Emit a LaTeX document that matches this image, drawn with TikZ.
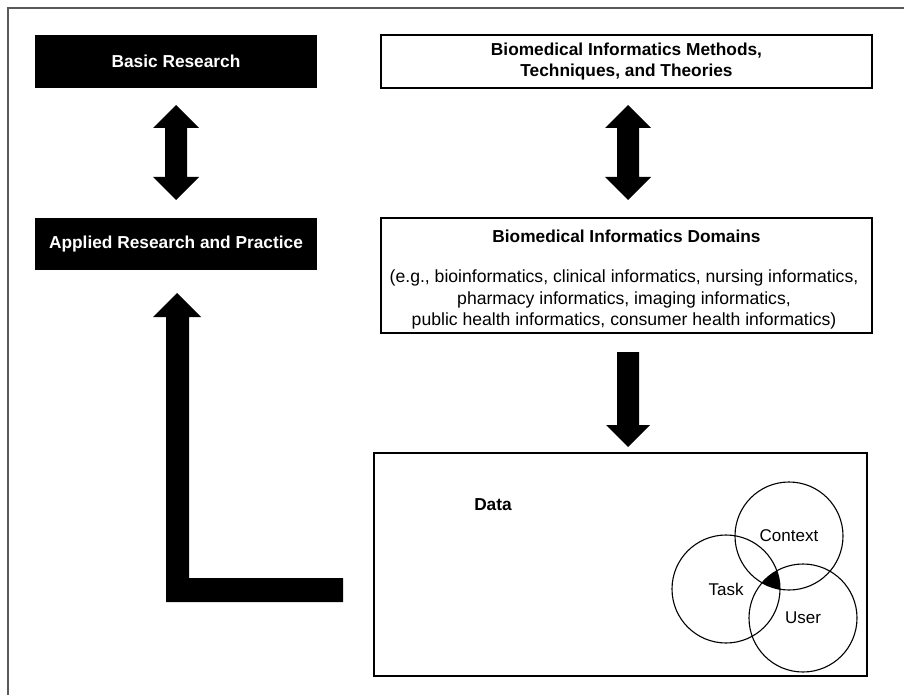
\documentclass[tikz,border=0pt]{standalone}
\usepackage{fontspec}
\setmainfont{Liberation Sans}
\usetikzlibrary{calc}

\tikzset{
  darkbox/.style={fill=black,text=white,font=\bfseries\fontsize{17.3}{21}\selectfont,minimum width=282pt,minimum height=53pt,inner sep=0pt},
  whitebox/.style={draw,line width=1.3pt,align=center,font=\fontsize{17.3}{21}\selectfont,inner sep=0pt},
  venn/.style={circle,draw,line width=1.1pt,minimum size=108pt,inner sep=0pt,font=\fontsize{17}{21}\selectfont}
}

\begin{document}
\begin{tikzpicture}[x=1pt,y=-1pt]
\useasboundingbox (0,0) rectangle (904,695);
\draw[line width=2pt,black!65] (8,695)--(8,8)--(904,8);

% left column
\node[darkbox] (basic) at (176,61.5) {Basic Research};
\node[darkbox,minimum height=52pt] (applied) at (176,244) {Applied Research and Practice};

% right column
\node[whitebox,minimum width=491pt,minimum height=53pt,font=\bfseries\fontsize{17.3}{21}\selectfont] (methods) at (626.5,61.5) {Biomedical Informatics Methods,\\Techniques, and Theories};
\node[whitebox,minimum width=491pt,minimum height=115pt] (domains) at (626.5,275.5) {};
\node[font=\bfseries\fontsize{17.3}{21}\selectfont] (domtitle) at (626.5,236) {Biomedical Informatics Domains};
\node[align=center,font=\fontsize{17.6}{21.5}\selectfont] (domlist) at (624,299.5) {(e.g., bioinformatics, clinical informatics, nursing informatics,\\pharmacy informatics, imaging informatics,\\public health informatics, consumer health informatics)};

% data box
\node[draw,line width=1.3pt,minimum width=493pt,minimum height=223pt,inner sep=0pt] (databox) at (620.5,564.5) {};
\node[font=\bfseries\fontsize{17.3}{21}\selectfont] (data) at (493,505) {Data};
\node[venn] (context) at (789,536) {Context};
\node[venn] (task) at (726,589) {Task};
\node[venn] (user) at (803,618) {User};
\begin{scope}
\clip (context.center) circle (54pt);
\clip (task.center) circle (54pt);
\fill (user.center) circle (54pt);
\end{scope}

% block arrows
\fill (176,105)--(199,128)--(187,128)--(187,177)--(199,177)--(176,200)--(153,177)--(165,177)--(165,128)--(153,128)--cycle;
\fill (628,105)--(651,128)--(639,128)--(639,177)--(651,177)--(628,200)--(605,177)--(617,177)--(617,128)--(605,128)--cycle;
\fill (617,352)--(639,352)--(639,425)--(650,425)--(628,447)--(606,425)--(617,425)--cycle;
\fill (177,293)--(201,317)--(189,317)--(189,578)--(343,578)--(343,602)--(166,602)--(166,317)--(153,317)--cycle;
\end{tikzpicture}
\end{document}
